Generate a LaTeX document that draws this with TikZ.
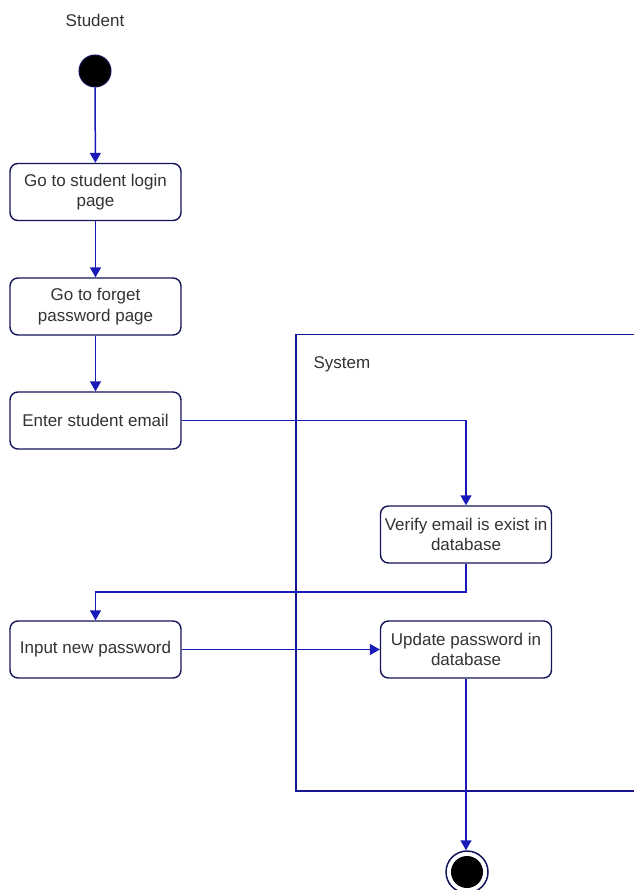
\documentclass[tikz,border=0pt]{standalone}
\usepackage{fontspec}
\setmainfont{Liberation Sans}
\usetikzlibrary{arrows.meta}
\definecolor{edgeblue}{HTML}{1A1AB8}
\definecolor{boxnavy}{HTML}{14145A}
\begin{document}
\begin{tikzpicture}[x=1pt,y=-1pt,
  act/.style={draw=boxnavy, line width=1.4pt, rounded corners=8pt, fill=white,
    minimum width=171pt, minimum height=57pt, align=center,
    font=\fontsize{17}{20.5}\selectfont, text=black!80, inner sep=2pt},
  flow/.style={draw=edgeblue, line width=1.5pt, -{Triangle[width=11pt,length=10pt]}},
  lbl/.style={font=\fontsize{17}{21}\selectfont, text=black!80}]
\useasboundingbox (0,0) rectangle (634,890);

% system partition (open on the right)
\draw[draw=edgeblue!80!black, line width=1.5pt] (634,334.5) -- (296,334.5) -- (296,791) -- (634,791);
\node[lbl, anchor=west] (sys) at (310,364) {System};

\node[lbl] (stu) at (95,20) {Student};
\node[circle, fill=black, draw=boxnavy, line width=1pt, minimum size=32pt, inner sep=0pt] (start) at (95,71) {};

\node[act] (a1) at (95.5,192) {Go to student login\\page};
\node[act] (a2) at (95.5,306.5) {Go to forget\\password page};
\node[act] (a3) at (95.5,420.5) {Enter student email};
\node[act] (a4) at (466,534.5) {Verify email is exist in\\database};
\node[act] (a5) at (95.5,649.5) {Input new password};
\node[act] (a6) at (466,649.5) {Update password in\\database};

\node[circle, draw=boxnavy, line width=1.5pt, fill=white, minimum size=42pt, inner sep=0pt] (end) at (467,872) {};
\node[circle, fill=black, minimum size=32pt, inner sep=0pt] (endin) at (end) {};

\draw[flow] (start) -- (a1);
\draw[flow] (a1) -- (a2);
\draw[flow] (a2) -- (a3);
\draw[flow] (a3.east) -| (a4.north);
\coordinate (bend) at (466,592);
\draw[flow] (a4.south) -- (bend) -| (a5.north);
\draw[flow] (a5) -- (a6);
\draw[flow] (a6.south) -- (a6.south |- end.north);
\end{tikzpicture}
\end{document}
